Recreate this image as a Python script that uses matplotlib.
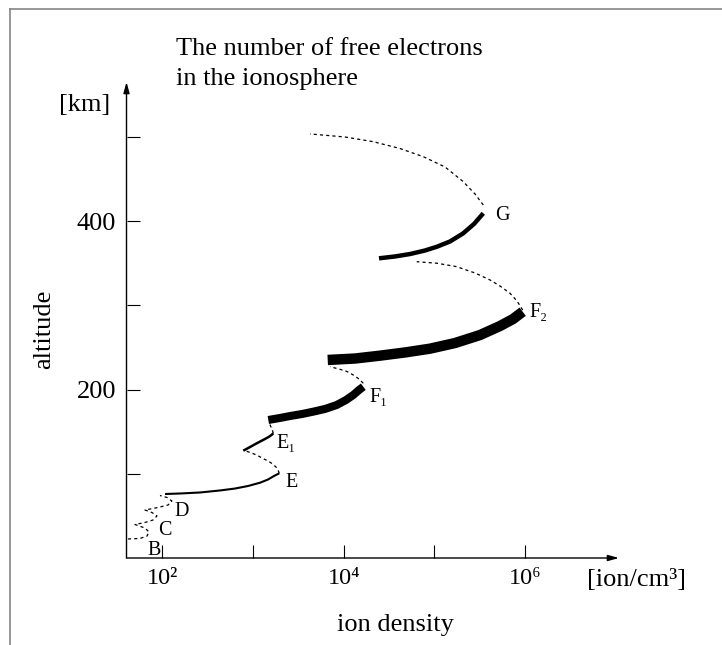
import matplotlib
matplotlib.use('Agg')
import matplotlib.pyplot as plt
from matplotlib.lines import Line2D
from matplotlib.ticker import FixedLocator, FixedFormatter, NullLocator

plt.rcParams['font.family'] = ['Liberation Serif', 'DejaVu Serif']

# ---------------- data (ion density [ion/cm^3], altitude [km]) ----------------
# dotted zig-zag of the B, C, D layers
bcd_density = [41.6, 56.5, 67.5, 71.0, 64.1, 49.7, 64.1, 78.5, 86.9, 76.6, 64.1, 89.1, 115, 127, 112, 93.8]
bcd_alt = [22.6, 23.2, 26.1, 30.9, 35.6, 39.8, 42.2, 45.1, 49.9, 54.0, 57.0, 60.0, 62.9, 67.7, 71.9, 74.2]

# solid D -> E
de_density = [106.6, 156.0, 259.4, 431.1, 631.2, 878.5, 1192, 1460, 1701, 1946]
de_alt = [76.0, 76.6, 77.8, 80.2, 82.5, 85.5, 89.4, 93.2, 97.4, 100.6]

# dotted E -> E1 base
e_gap_density = [1946, 1883, 1789, 1617, 1460, 1254, 1096, 924.5, 779.6]
e_gap_alt = [100.6, 104.5, 108.1, 112.2, 115.2, 118.8, 122.3, 125.3, 128.3]

# solid E1
e1_density = [779.6, 924.5, 1096, 1286, 1472, 1596, 1671]
e1_alt = [127.4, 131.8, 136.2, 140.1, 143.5, 146.1, 148.1]

# dotted E1 -> F1 base
e1_gap_density = [1671, 1640, 1596, 1540, 1479]
e1_gap_alt = [148.1, 151.0, 154.4, 158.0, 161.5]

# thick F1
f1_density = [1472, 1982, 2555, 3465, 4618, 6218, 8368, 10600, 12760, 14750, 16460]
f1_alt = [163.9, 166.3, 168.6, 171.0, 173.8, 177.0, 181.7, 187.6, 193.6, 199.5, 203.4]

# dotted F1 -> F2 base
f1_gap_density = [16460, 14750, 12760, 10870, 9104, 7061]
f1_gap_alt = [207.5, 212.6, 217.3, 221.5, 224.1, 227.2]

# thick F2
f2_density = [6660, 13330, 25160, 47500, 89660, 169300, 319500, 531200, 739100, 945600]
f2_alt = [235.2, 236.9, 240.3, 244.1, 248.6, 255.3, 264.8, 275.5, 283.8, 292.5]

# dotted F2 -> G base
f2_gap_density = [945600, 818100, 684800, 531200, 411900, 281300, 176700, 106300, 63930]
f2_gap_alt = [294.5, 305.2, 314.4, 323.0, 330.2, 338.5, 346.0, 350.1, 351.9]

# thick G
g_density = [24530, 36830, 53930, 78970, 107100, 149000, 207400, 274300, 347400]
g_alt = [355.9, 358.1, 361.0, 365.2, 369.7, 375.9, 385.4, 396.7, 409.4]

# dotted top above G
g_top_density = [347400, 281300, 209000, 131300, 75640, 41820, 21220, 10330, 4246]
g_top_alt = [419.2, 432.3, 446.9, 464.4, 476.6, 486.3, 494.4, 500.0, 503.6]

# layer labels
layer_names = ['B', 'C', 'D', 'E', 'E\u2081', 'F\u2081', 'F\u2082', 'G']
layer_density = [67.5, 90, 137, 2250, 1820, 19200, 1.12e6, 468000]
layer_alt = [3.6, 27.3, 49.9, 84.7, 130.3, 185.6, 286.6, 401.4]

x_ticks = [1e2, 1e3, 1e4, 1e5, 1e6]
x_tick_labels = ['10\u00b2', '', '10\u2074', '', '10\u2076']
y_ticks = [100, 200, 300, 400, 500]
y_tick_labels = ['', '200', '', '400', '']

title_lines = ['The number of free electrons', 'in the ionosphere']

# ---------------- figure ----------------
W, H = 722, 645
fig = plt.figure(figsize=(W / 100, H / 100), dpi=100)
ax = fig.add_axes([126.5 / W, (H - 558) / H, (619 - 126.5) / W, (558 - 82) / H])
ax.set_xscale('log')
ax.set_xlim(40.06, 1.093e7)
ax.set_ylim(0, 565.3)

dot = dict(color='black', lw=0.9, linestyle=(0, (2.5, 2.5)), dash_capstyle='butt')
ax.plot(bcd_density, bcd_alt, **dot)
ax.plot(e_gap_density, e_gap_alt, **dot)
ax.plot(e1_gap_density, e1_gap_alt, **dot)
ax.plot(f1_gap_density, f1_gap_alt, **dot)
ax.plot(f2_gap_density, f2_gap_alt, **dot)
ax.plot(g_top_density, g_top_alt, **dot)

ax.plot(de_density, de_alt, color='black', lw=1.5, solid_capstyle='butt', solid_joinstyle='round')
ax.plot(e1_density, e1_alt, color='black', lw=1.8, solid_capstyle='butt', solid_joinstyle='round')
ax.plot(f1_density, f1_alt, color='black', lw=5.8, solid_capstyle='butt', solid_joinstyle='round')
ax.plot(f2_density, f2_alt, color='black', lw=7.5, solid_capstyle='butt', solid_joinstyle='round')
ax.plot(g_density, g_alt, color='black', lw=3.2, solid_capstyle='butt', solid_joinstyle='round')

for name, xd, yd in zip(layer_names, layer_density, layer_alt):
    ax.text(xd, yd, name, fontsize=14.5, ha='left', va='baseline')

# axes with arrows
for s in ax.spines.values():
    s.set_visible(False)
arrow = dict(arrowstyle='-|>,head_length=0.65,head_width=0.18', lw=1.0, color='black',
             shrinkA=0, shrinkB=0)
ax.annotate('', xy=(0, 1), xytext=(0, 0), xycoords='axes fraction', arrowprops=arrow)
ax.annotate('', xy=(1, 0), xytext=(0, 0), xycoords='axes fraction', arrowprops=arrow)

ax.xaxis.set_major_locator(FixedLocator(x_ticks))
ax.xaxis.set_major_formatter(FixedFormatter(x_tick_labels))
ax.xaxis.set_minor_locator(NullLocator())
ax.yaxis.set_major_locator(FixedLocator(y_ticks))
ax.yaxis.set_major_formatter(FixedFormatter(y_tick_labels))
ax.yaxis.set_minor_locator(NullLocator())
ax.tick_params(axis='both', direction='in', length=9.4, width=0.8, color='black')
ax.tick_params(axis='y', labelsize=19, pad=7.6)
ax.tick_params(axis='x', labelsize=17.5, pad=7.5)

# texts
fig.text(176 / W, 1 - 55 / H, title_lines[0], fontsize=19, ha='left', va='baseline')
fig.text(176 / W, 1 - 85 / H, title_lines[1], fontsize=19, ha='left', va='baseline')
fig.text(85 / W, 1 - 111 / H, '[km]', fontsize=19, ha='center', va='baseline')
fig.text(44 / W, 1 - 329 / H, 'altitude', fontsize=19, ha='center', va='center', rotation=90)
fig.text(395.5 / W, 1 - 631 / H, 'ion density', fontsize=19, ha='center', va='baseline')
fig.text(636.5 / W, 1 - 586 / H, '[ion/cm\u00b3]', fontsize=19, ha='center', va='baseline')

# gray frame lines
fig.add_artist(Line2D([10 / W, 10 / W], [0, 1 - 9 / H], transform=fig.transFigure, color='#7a7a7a', lw=1.1))
fig.add_artist(Line2D([10 / W, 1], [1 - 9 / H, 1 - 9 / H], transform=fig.transFigure, color='#7a7a7a', lw=1.1))

fig.savefig('out.png', dpi=100)
